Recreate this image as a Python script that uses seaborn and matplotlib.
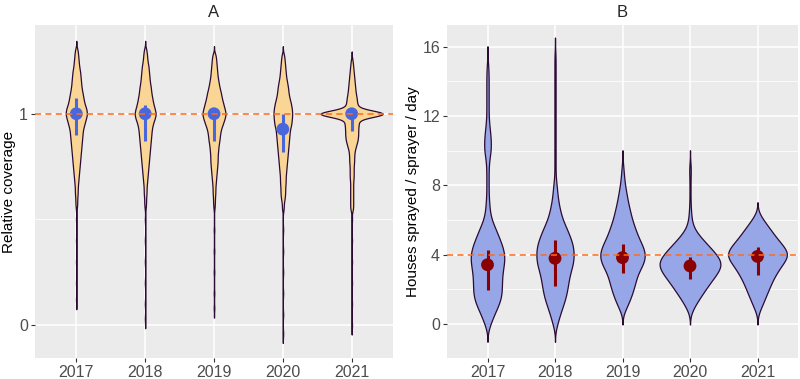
import numpy as np
import pandas as pd
import matplotlib
matplotlib.use("Agg")
import matplotlib.pyplot as plt
from matplotlib.ticker import FixedLocator, MultipleLocator
import seaborn as sns

years = ["2017", "2018", "2019", "2020", "2021"]

# ---- Panel A: relative coverage (value grid -> number of observations) ----
cov_grid = [0.55, 0.575, 0.6, 0.625, 0.65, 0.675, 0.7, 0.725, 0.75, 0.775, 0.8,
            0.825, 0.85, 0.875, 0.9, 0.925, 0.95, 0.975, 1.0, 1.025, 1.05, 1.075,
            1.1, 1.125, 1.15, 1.175, 1.2, 1.225, 1.25, 1.275, 1.3, 1.325, 1.35]
cov_n_2017 = [1, 2, 2, 3, 3, 4, 5, 6, 7, 8, 9, 10, 11, 12, 13, 14, 17, 20, 23, 21, 17, 15, 13, 11, 10, 9, 8, 6, 5, 4, 3, 0, 0]
cov_n_2018 = [1, 2, 2, 3, 3, 4, 5, 6, 7, 8, 9, 10, 11, 12, 13, 14, 16, 20, 23, 20, 17, 15, 13, 12, 10, 9, 8, 7, 5, 4, 3, 0, 0]
cov_n_2019 = [1, 2, 2, 3, 3, 4, 5, 6, 7, 8, 8, 9, 10, 12, 13, 15, 19, 23, 26, 23, 20, 17, 15, 12, 10, 8, 7, 6, 5, 4, 0, 0, 0]
cov_n_2020 = [2, 2, 4, 5, 5, 6, 6, 7, 8, 9, 10, 11, 12, 13, 14, 15, 18, 19, 20, 19, 17, 14, 12, 11, 9, 7, 6, 5, 4, 3, 0, 0, 0]
cov_n_2021 = [3, 3, 3, 3, 3, 3, 4, 4, 4, 5, 5, 6, 9, 12, 13, 13, 14, 14, 86, 13, 11, 10, 8, 7, 6, 5, 4, 3, 2, 0, 0, 0, 0]
# isolated low values (long thin tails)
cov_tail_2017 = [0.12, 0.2, 0.3, 0.4, 0.5]
cov_tail_2018 = [0.03, 0.1, 0.2, 0.3, 0.4, 0.5]
cov_tail_2019 = [0.08, 0.15, 0.25, 0.35, 0.45]
cov_tail_2020 = [-0.04, 0.05, 0.15, 0.25, 0.35, 0.45]
cov_tail_2021 = [0.0, 0.1, 0.2, 0.3, 0.4, 0.5]
# summary point and interval
cov_mid = [1.0, 1.0, 1.0, 0.927, 1.0]
cov_lo = [0.90, 0.872, 0.872, 0.82, 0.916]
cov_hi = [1.074, 1.043, 1.0, 1.0, 1.0]

# ---- Panel B: houses sprayed / sprayer / day ----
hs_grid = [0, 0.5, 1, 1.5, 2, 2.5, 3, 3.5, 4, 4.5, 5, 5.5, 6, 6.5, 7, 7.5, 8,
           8.5, 9, 9.5, 10, 10.5, 11, 11.5, 12, 12.5, 13, 13.5, 14, 14.5, 15, 15.5]
hs_n_2017 = [5, 11, 18, 24, 25, 25, 26, 29, 30, 26, 20, 14, 7, 4, 3, 2, 2, 2, 2, 3, 6, 6, 5, 3, 2, 2, 2, 2, 2, 2, 1, 0]
hs_n_2018 = [4, 8, 13, 18, 21, 23, 26, 31, 32, 31, 26, 20, 13, 9, 6, 4, 3, 1, 1, 1, 1, 1, 1, 1, 1, 1, 1, 1, 1, 1, 1, 1]
hs_n_2019 = [0, 0, 9, 16, 22, 26, 31, 42, 46, 40, 31, 25, 19, 15, 11, 8, 5, 3, 2, 0, 0, 0, 0, 0, 0, 0, 0, 0, 0, 0, 0, 0]
hs_n_2020 = [0, 0, 8, 18, 29, 40, 53, 61, 50, 35, 20, 7, 3, 2, 1, 1, 1, 1, 2, 0, 0, 0, 0, 0, 0, 0, 0, 0, 0, 0, 0, 0]
hs_n_2021 = [0, 0, 7, 13, 19, 25, 33, 43, 55, 44, 31, 21, 10, 0, 0, 0, 0, 0, 0, 0, 0, 0, 0, 0, 0, 0, 0, 0, 0, 0, 0, 0]
hs_mid = [3.42, 3.79, 3.83, 3.35, 3.9]
hs_lo = [1.96, 2.22, 2.92, 2.58, 2.83]
hs_hi = [4.27, 4.85, 4.6, 3.86, 4.43]


def expand(grid, counts, extra=()):
    return list(np.repeat(grid, counts)) + list(extra)


df_a = pd.concat([
    pd.DataFrame({"year": y, "value": expand(cov_grid, n, t)})
    for y, n, t in zip(years,
                       [cov_n_2017, cov_n_2018, cov_n_2019, cov_n_2020, cov_n_2021],
                       [cov_tail_2017, cov_tail_2018, cov_tail_2019, cov_tail_2020, cov_tail_2021])
])
df_b = pd.concat([
    pd.DataFrame({"year": y, "value": expand(hs_grid, n)})
    for y, n in zip(years, [hs_n_2017, hs_n_2018, hs_n_2019, hs_n_2020, hs_n_2021])
])


def fixed_bw(bw):
    # same kernel width for every violin
    return lambda kde: bw / kde.dataset.std(ddof=1)


sns.set_theme(style="darkgrid")
plt.rcParams["font.family"] = ["Liberation Sans", "DejaVu Sans"]
plt.rcParams["axes.facecolor"] = "#EBEBEB"

fig = plt.figure(figsize=(8, 3.79), dpi=100)
ax_a = fig.add_axes([35 / 800, 21 / 379, 358 / 800, 333 / 379])
ax_b = fig.add_axes([447 / 800, 21 / 379, 351 / 800, 333 / 379])

pos = np.arange(len(years))
ref_col = "#FF6A1A"
edge_col = "#2B0B33"

sns.violinplot(data=df_a, x="year", y="value", order=years, ax=ax_a,
               color="#F9D695", saturation=1, inner=None, width=0.9,
               density_norm="area", cut=3, bw_method=fixed_bw(0.015),
               gridsize=400, linewidth=0.9, linecolor=edge_col)
sns.violinplot(data=df_b, x="year", y="value", order=years, ax=ax_b,
               color="#97A6E6", saturation=1, inner=None, width=0.9,
               density_norm="area", cut=2.7, bw_method=fixed_bw(0.38),
               gridsize=300, linewidth=0.9, linecolor=edge_col)

ax_a.axhline(1, color=ref_col, lw=1.1, ls=(0, (4, 2.8)), zorder=5)
ax_b.axhline(4, color=ref_col, lw=1.1, ls=(0, (4, 2.8)), zorder=5)

ax_a.vlines(pos, cov_lo, cov_hi, color="#4867DC", lw=2.2, zorder=3)
ax_a.scatter(pos, cov_mid, s=85, color="#4867DC", edgecolor="none", zorder=4)
ax_b.vlines(pos, hs_lo, hs_hi, color="#8B0000", lw=2.2, zorder=3)
ax_b.scatter(pos, hs_mid, s=85, color="#8B0000", edgecolor="none", zorder=4)

ax_a.set_ylim(-0.156, 1.42)
ax_a.yaxis.set_major_locator(FixedLocator([0, 1]))
ax_a.yaxis.set_minor_locator(FixedLocator([0.5]))
ax_b.set_ylim(-1.96, 17.25)
ax_b.yaxis.set_major_locator(FixedLocator([0, 4, 8, 12, 16]))
ax_b.yaxis.set_minor_locator(MultipleLocator(2))

for ax, title, ylab in [(ax_a, "A", "Relative coverage"),
                        (ax_b, "B", "Houses sprayed / sprayer / day")]:
    ax.set_xlim(-0.6, 4.6)
    ax.set_title(title, fontsize=12, pad=6)
    ax.set_xlabel("")
    ax.set_ylabel(ylab, fontsize=11, color="black", labelpad=2)
    ax.grid(True, which="major", color="white", lw=1.1)
    ax.grid(True, which="minor", axis="y", color="white", lw=0.55)
    ax.set_axisbelow(True)
    ax.tick_params(which="major", length=3, width=0.8, color="#333333",
                   labelcolor="#4D4D4D", labelsize=11.5, pad=2,
                   left=True, bottom=True)
    ax.tick_params(which="minor", length=0)
    for s in ax.spines.values():
        s.set_visible(False)

fig.savefig("out.png", dpi=100)
